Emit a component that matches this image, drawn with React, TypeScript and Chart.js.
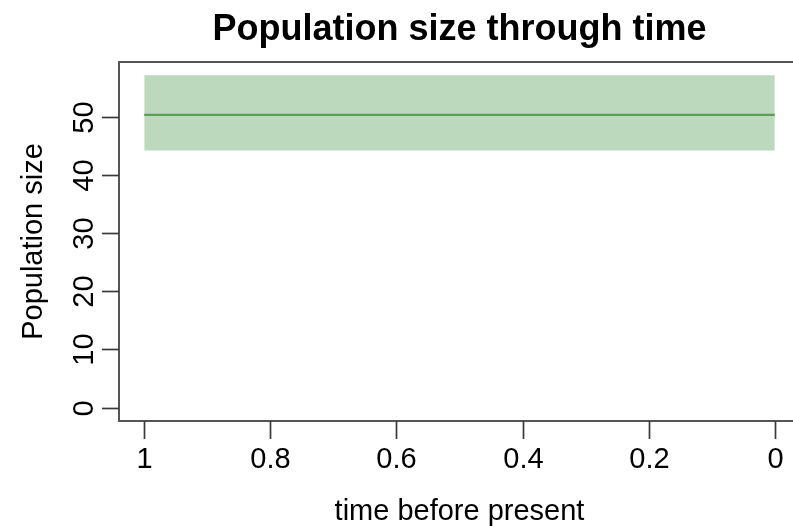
import React, { useEffect, useRef } from "react";
import { Chart, registerables } from "chart.js";

Chart.register(...registerables);

// ---- data ----
const times = [1, 0];
const medianSize = [50.3, 50.3];
const lowerSize = [44.2, 44.2];
const upperSize = [57.1, 57.1];
const xTicks = [1, 0.8, 0.6, 0.4, 0.2, 0];
const xTickLabels = ["1", "0.8", "0.6", "0.4", "0.2", "0"];
const yTicks = [0, 10, 20, 30, 40, 50];
const yTickLabels = ["0", "10", "20", "30", "40", "50"];
const titleText = "Population size through time";
const xTitle = "time before present";
const yTitle = "Population size";

const FONT = "'Liberation Sans', Arial, Helvetica, sans-serif";

const rAxesPlugin = {
  id: "rAxes",
  afterDraw(chart: any) {
    const ctx = chart.ctx as CanvasRenderingContext2D;
    const { left, top, right, bottom } = chart.chartArea;
    const xs = chart.scales.x;
    const ys = chart.scales.y;
    ctx.save();
    // box
    ctx.strokeStyle = "#555";
    ctx.lineWidth = 2;
    ctx.strokeRect(left, top, right - left, bottom - top);
    // x ticks
    ctx.strokeStyle = "#3a3a3a";
    ctx.lineWidth = 1.7;
    ctx.fillStyle = "#000";
    ctx.font = `29px ${FONT}`;
    ctx.textAlign = "center";
    ctx.textBaseline = "alphabetic";
    xTicks.forEach((v, i) => {
      const px = Math.round(xs.getPixelForValue(v)) + 0.5;
      ctx.beginPath();
      ctx.moveTo(px, bottom);
      ctx.lineTo(px, bottom + 18);
      ctx.stroke();
      ctx.fillText(xTickLabels[i], px, 468);
    });
    // y ticks
    yTicks.forEach((v, i) => {
      const py = Math.round(ys.getPixelForValue(v)) + 0.5;
      ctx.beginPath();
      ctx.moveTo(left, py);
      ctx.lineTo(left - 17, py);
      ctx.stroke();
      ctx.save();
      ctx.translate(93, py);
      ctx.rotate(-Math.PI / 2);
      ctx.textAlign = "center";
      ctx.textBaseline = "alphabetic";
      ctx.fillText(yTickLabels[i], 0, 0);
      ctx.restore();
    });
    // axis titles
    const cx = (left + right) / 2;
    const cy = (top + bottom) / 2;
    ctx.textAlign = "center";
    ctx.textBaseline = "alphabetic";
    ctx.fillText(xTitle, cx, 520);
    ctx.save();
    ctx.translate(42, cy);
    ctx.rotate(-Math.PI / 2);
    ctx.fillText(yTitle, 0, 0);
    ctx.restore();
    // main title
    ctx.font = `bold 36px ${FONT}`;
    ctx.fillText(titleText, cx, 40);
    ctx.restore();
  },
};

export default function App() {
  const ref = useRef<HTMLCanvasElement | null>(null);
  useEffect(() => {
    if (!ref.current) return;
    const pts = (arr: number[]) => times.map((t, i) => ({ x: t, y: arr[i] }));
    const chart = new Chart(ref.current, {
      type: "line",
      data: {
        datasets: [
          {
            label: "median",
            data: pts(medianSize),
            borderColor: "#5a9e5a",
            borderWidth: 2.2,
            pointRadius: 0,
            fill: false,
          },
          {
            label: "lower",
            data: pts(lowerSize),
            borderWidth: 0,
            borderColor: "rgba(0,0,0,0)",
            pointRadius: 0,
            fill: false,
          },
          {
            label: "upper",
            data: pts(upperSize),
            borderWidth: 0,
            borderColor: "rgba(0,0,0,0)",
            backgroundColor: "#bdd9bd",
            pointRadius: 0,
            fill: "-1",
          },
        ],
      },
      options: {
        animation: false,
        responsive: false,
        devicePixelRatio: 1,
        layout: { padding: { left: 119, top: 62, right: 12, bottom: 105 } },
        plugins: {
          legend: { display: false },
          tooltip: { enabled: false },
          title: { display: false },
        },
        scales: {
          x: { type: "linear", min: -0.04, max: 1.04, reverse: true, display: false },
          y: { type: "linear", min: -2.284, max: 59.384, display: false },
        },
      },
      plugins: [rAxesPlugin],
    });
    return () => chart.destroy();
  }, []);
  return (
    <div
      style={{
        position: "fixed",
        left: 0,
        top: 0,
        width: 793,
        height: 526,
        overflow: "hidden",
        background: "#fff",
      }}
    >
      <canvas ref={ref} width={812} height={526} style={{ display: "block", width: 812, height: 526 }} />
    </div>
  );
}
